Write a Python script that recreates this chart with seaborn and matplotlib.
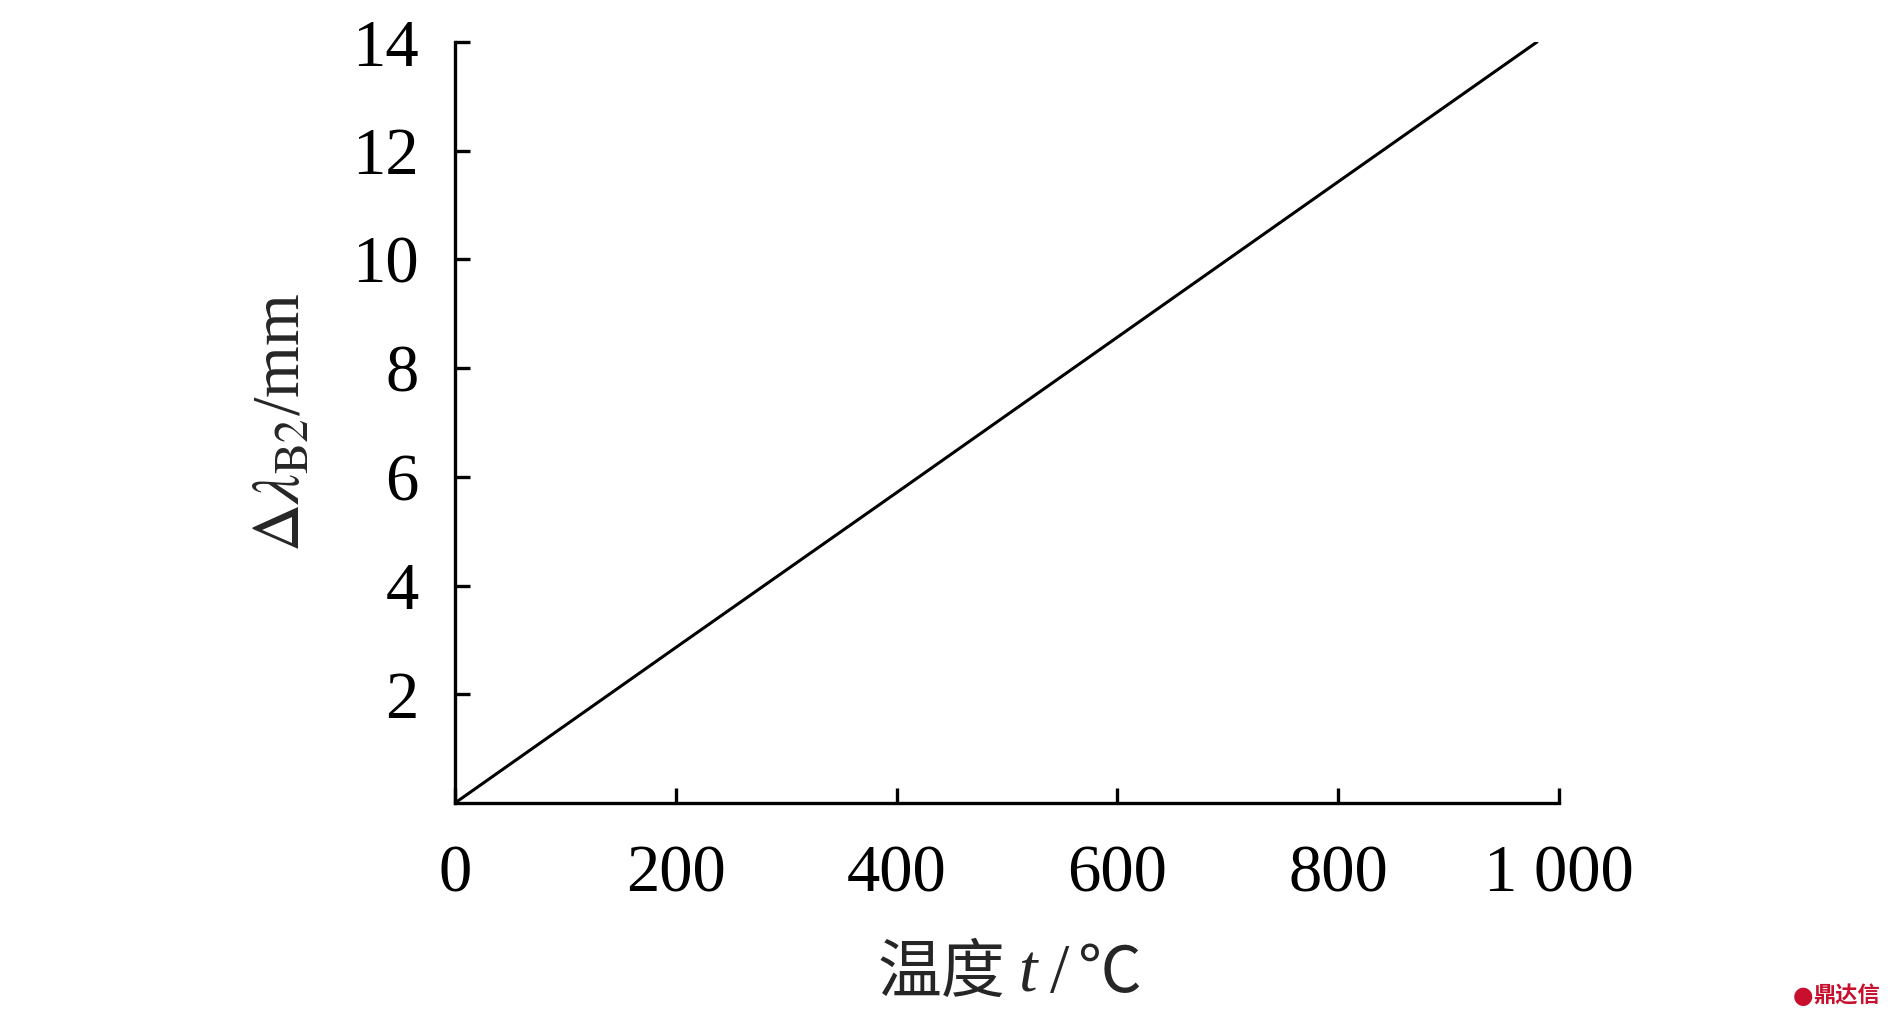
import matplotlib
matplotlib.use("Agg")
import matplotlib.pyplot as plt
import pandas as pd
import seaborn as sns

# data: straight line from origin to ~ (980, 14)
temperature = [0, 200, 400, 600, 800, 980]
delta_lambda = [0.0, 2.86, 5.71, 8.57, 11.43, 14.0]

x_ticks = [0, 200, 400, 600, 800, 1000]
x_tick_labels = ["0", "200", "400", "600", "800", "1 000"]
y_ticks = [2, 4, 6, 8, 10, 12, 14]

df = pd.DataFrame({"t": temperature, "dl": delta_lambda})

sns.set_theme(style="ticks")
plt.rcParams["font.family"] = ["Liberation Serif", "Noto Sans CJK SC", "DejaVu Sans"]
plt.rcParams["mathtext.fontset"] = "stix"

fig = plt.figure(figsize=(18.9, 10.17), dpi=100)
W, H = 1890.0, 1017.0
ax = fig.add_axes([0.2407, 0.2104, 0.5842, 0.7483])

sns.lineplot(data=df, x="t", y="dl", ax=ax, color="black", linewidth=2.2)

ax.set_xlim(0, 1000)
ax.set_ylim(0, 14)
ax.set_xticks(x_ticks)
ax.set_xticklabels(x_tick_labels)
ax.set_yticks(y_ticks)

for side in ["top", "right"]:
    ax.spines[side].set_visible(False)
for side in ["left", "bottom"]:
    ax.spines[side].set_linewidth(2.4)
    ax.spines[side].set_color("black")

ax.tick_params(axis="both", direction="in", length=11, width=2.4,
               labelsize=48, colors="black")
ax.tick_params(axis="y", pad=26)
ax.tick_params(axis="x", pad=30)

ax.set_ylabel(r"$\Delta\lambda_{\mathrm{B2}}$/mm", fontsize=48, labelpad=28)
ax.set_xlabel("")

# x label pieces: 温度 (CJK), italic t, slash, ℃
base_y = 1 - 992 / H
fig.text(878 / W, base_y, "温度", fontsize=46, va="baseline", ha="left",
         family=["Noto Sans CJK SC"])
fig.text(1018 / W, base_y, "t", fontsize=48, style="italic", va="baseline",
         ha="left", family=["Liberation Serif"])
fig.text(1050 / W, base_y, "/", fontsize=50, va="baseline", ha="left",
         family=["Liberation Serif"])
fig.text(1078 / W, base_y, "℃", fontsize=46, va="baseline", ha="left",
         family=["Noto Sans CJK SC"])

# watermark
fig.text(1880 / W, 1 - 1003 / H, "鼎达信", color="#c8102e", fontsize=16,
         fontweight="bold", ha="right", va="baseline", family=["Noto Sans CJK SC"])
fig.text(1803 / W, 1 - 1003 / H, "●", color="#c8102e", fontsize=17,
         ha="center", va="baseline", family=["DejaVu Sans"])

fig.savefig("out.png", dpi=100, facecolor="white")
